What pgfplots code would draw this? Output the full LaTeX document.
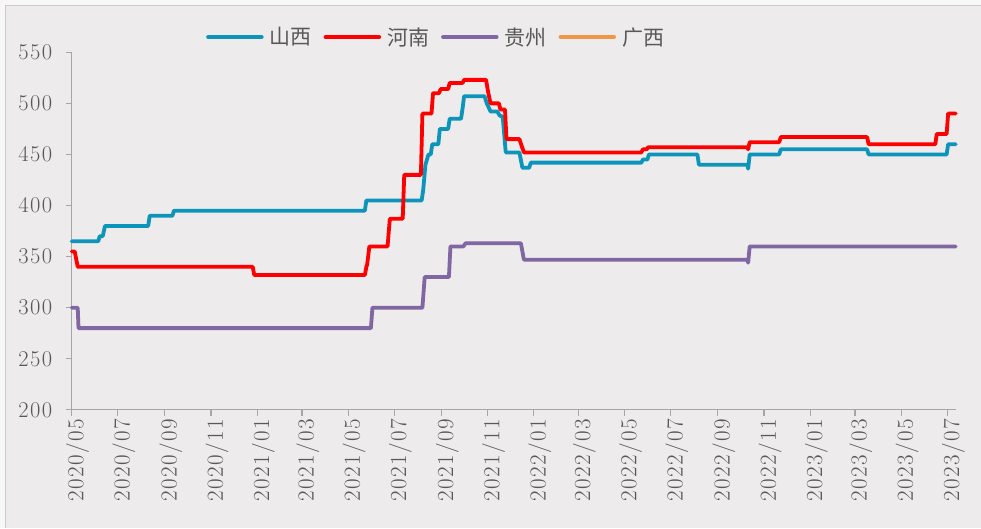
\documentclass[border=0pt]{standalone}
\usepackage{fontspec}
\usepackage{pgfplots}
\pgfplotsset{compat=1.18}
\newfontfamily\cjk{Noto Sans CJK SC}
\newfontfamily\tickfont{Latin Modern Roman}[LetterSpace=6]
\definecolor{sx}{RGB}{12,148,186}
\definecolor{hn}{RGB}{255,0,0}
\definecolor{gz}{RGB}{128,102,162}
\definecolor{gx}{RGB}{240,150,70}
\definecolor{bgin}{RGB}{237,235,236}
\definecolor{bgout}{RGB}{247,247,247}
\definecolor{axgray}{RGB}{166,166,166}
\definecolor{txtgray}{RGB}{89,89,89}
\begin{document}
\begin{tikzpicture}[x=1pt,y=1pt]
\fill[bgout] (-71.7,-118) rectangle (909.3,410);
\fill[bgin] (-66.7,-118) rectangle (909.3,405);
\draw[gray!40, line width=0.6pt] (-66.7,-118) -- (-66.7,405) -- (909.3,405);
\begin{axis}[
  at={(0,0)}, anchor=south west,
  scale only axis, width=884.3pt, height=357.7pt,
  xmin=0, xmax=1167, ymin=200, ymax=550,
  axis x line*=bottom, axis y line*=left,
  axis line style={axgray, line width=1.2pt, -},
  xtick={0,61,123,184,245,304,365,426,488,549,610,669,730,791,853,914,975,1034,1095,1156},
  xticklabels={2020/05,2020/07,2020/09,2020/11,2021/01,2021/03,2021/05,2021/07,2021/09,2021/11,2022/01,2022/03,2022/05,2022/07,2022/09,2022/11,2023/01,2023/03,2023/05,2023/07},
  ytick={200,250,...,550},
  tick align=outside, major tick length=6pt,
  tick style={axgray, line width=1.2pt},
  /pgf/number format/assume math mode=true,
  yticklabel style={font=\tickfont\fontsize{22.5}{22.5}\selectfont, text=txtgray, xshift=-10pt},
  xticklabel style={font=\tickfont\fontsize{23}{23}\selectfont, text=txtgray, rotate=90, anchor=east, yshift=-6pt},
  legend columns=4,
  legend style={at={(0.1519,1.0428)}, anchor=west, draw=none, fill=none, inner sep=0pt,
    font=\cjk\fontsize{21}{21}\selectfont, text=txtgray,
    nodes={inner sep=0pt},
    /tikz/every odd column/.append style={column sep=6pt},
    /tikz/every even column/.append style={column sep=12pt}},
  legend image code/.code={\draw[#1, line width=4.5pt, line cap=round] (0pt,0pt) -- (53pt,0pt);},
  every axis plot/.append style={line width=3.8pt, line join=round, line cap=round},
  clip=false,
]
\addplot[sx] coordinates {
(0,365)(35,365)(37,370)(41,370)(44,380)(101,380)(103,390)(133,390)(135,395)(387,395)(389,405)
(462,405)(464,415)(467,440)(469,445)(471,450)(474,450)(476,460)(484,460)(486,475)(497,475)(499,485)
(514,485)(516,495)(518,507)(545,507)(548,500)(553,492)(562,492)(565,488)(569,487)(573,452)
(591,452)(595,437)(604,437)(606,442)(752,442)(754,445)(760,445)(762,450)(826,450)(828,440)
(892,440)(893,436)(895,450)(934,450)(936,455)(1050,455)(1052,450)(1155,450)(1157,460)(1167,460)};
\addlegendentry{山西}
\addplot[hn] coordinates {
(0,355)(4,355)(8,340)(239,340)(241,332)(387,332)(389,340)(390,342)(393,360)(417,360)(420,387)
(437,387)(439,430)(461,430)(463,490)(475,490)(477,510)(485,510)(487,514)(497,514)(499,520)
(516,520)(518,523)(547,523)(550,510)(553,500)(564,500)(566,494)(572,494)(574,465)(591,465)
(597,452)(752,452)(754,455)(759,455)(761,457)(892,457)(893,455)(895,462)(934,462)(936,467)
(1050,467)(1052,460)(1140,460)(1142,470)(1155,470)(1157,490)(1167,490)};
\addlegendentry{河南}
\addplot[gz] coordinates {
(0,300)(8,300)(9,280)(395,280)(397,300)(463,300)(466,330)(498,330)(500,360)(517,360)(520,363)
(593,363)(597,347)(892,347)(893,344)(895,360)(1167,360)};
\addlegendentry{贵州}
\addlegendimage{gx}
\addlegendentry{广西}
\end{axis}
\end{tikzpicture}
\end{document}
